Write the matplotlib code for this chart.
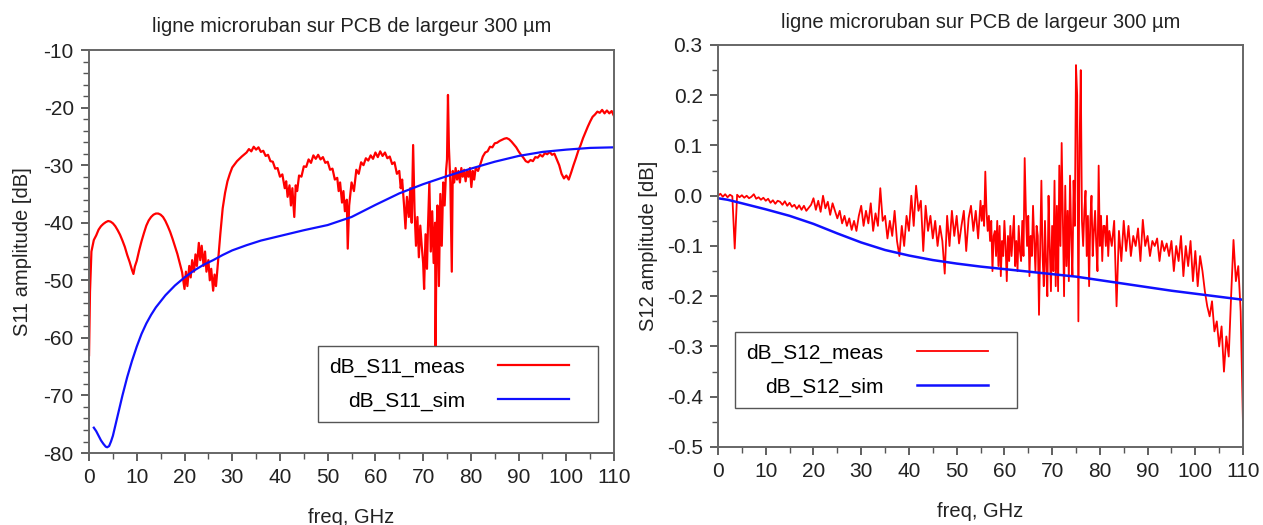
import numpy as np
import matplotlib
matplotlib.use("Agg")
import matplotlib.pyplot as plt
from matplotlib.ticker import MultipleLocator, FormatStrFormatter

plt.rcParams["font.family"] = ["Liberation Sans", "DejaVu Sans"]
plt.rcParams["axes.unicode_minus"] = False

TITLE = "ligne microruban sur PCB de largeur 300 µm"

# S11 mesure (GHz, dB)
s11_meas_f = [
    0, 0.2, 0.5, 1, 1.5, 2, 2.5, 3, 3.5, 4,
    4.5, 5, 5.5, 6, 6.5, 7, 7.5, 8, 8.5, 9,
    9.3, 9.6, 10, 10.5, 11, 11.5, 12, 12.5, 13, 13.5,
    14, 14.5, 15, 15.5, 16, 16.5, 17, 17.5, 18, 18.5,
    19, 19.5, 20, 20.3, 20.6, 21, 21.3, 21.6, 22, 22.3,
    22.6, 23, 23.3, 23.6, 24, 24.3, 24.6, 25, 25.3, 25.6,
    26, 26.3, 26.6, 27, 27.5, 28, 28.5, 29, 29.5, 30,
    31, 32, 33, 33.5, 34, 34.5, 35, 35.5, 36, 36.5,
    37, 37.5, 38, 38.5, 39, 39.5, 40, 40.5, 41, 41.3,
    41.6, 42, 42.3, 42.6, 43, 43.3, 43.6, 44, 44.5, 45,
    45.5, 46, 46.5, 47, 47.5, 48, 48.5, 49, 49.5, 50,
    50.5, 51, 51.5, 52, 52.3, 52.6, 53, 53.3, 53.6, 54,
    54.2, 54.5, 55, 55.5, 56, 56.5, 57, 57.5, 58, 58.5,
    59, 59.5, 60, 60.5, 61, 61.5, 62, 62.5, 63, 63.5,
    64, 64.5, 65, 65.3, 65.6, 66, 66.3, 66.6, 67, 67.3,
    67.6, 67.9, 68.2, 68.5, 68.8, 69.1, 69.4, 69.7, 70, 70.2,
    70.5, 70.8, 71, 71.3, 71.6, 71.9, 72.2, 72.5, 72.6, 72.8,
    73, 73.3, 73.6, 73.9, 74.2, 74.5, 74.8, 75, 75.2, 75.4,
    75.7, 76, 76.2, 76.5, 76.8, 77.1, 77.4, 77.7, 78, 78.3,
    78.6, 78.9, 79.2, 79.5, 79.8, 80.1, 80.4, 80.7, 81, 81.5,
    82, 82.5, 83, 83.5, 84, 84.5, 85, 85.5, 86, 86.5,
    87, 87.5, 88, 88.5, 89, 89.5, 90, 90.5, 91, 91.5,
    92, 92.5, 93, 93.5, 94, 94.5, 95, 95.5, 96, 96.5,
    97, 97.5, 98, 98.5, 99, 99.5, 100, 100.5, 101, 101.5,
    102, 102.5, 103, 103.5, 104, 104.5, 105, 105.5, 106, 106.5,
    107, 107.5, 108, 108.5, 109, 109.5, 110,
]
s11_meas_db = [
    -63, -52, -45, -43, -42.2, -41.2, -40.6, -40.2, -39.9, -39.7,
    -39.8, -40.1, -40.6, -41.3, -42.1, -43.1, -44.2, -45.6, -46.8, -48.2,
    -48.9, -47.6, -46.6, -44.8, -43.2, -41.8, -40.5, -39.6, -39, -38.6,
    -38.4, -38.4, -38.6, -39, -39.7, -40.6, -41.6, -42.8, -44.1, -45.4,
    -47, -48.6, -51.5, -48.5, -51, -47.5, -49.5, -46.5, -48.5, -45.5,
    -47.5, -43.5, -46.5, -44, -47.5, -45, -48.5, -46.5, -50, -48,
    -51.8, -49, -51, -47, -42, -37.5, -34.8, -32.8, -31.5, -30.4,
    -29.3, -28.5, -27.8, -27.2, -27.6, -26.8, -27.3, -26.9, -27.7, -27.5,
    -28.4, -28.2, -29.3, -29.4, -30.6, -30.5, -32, -31.6, -34, -32.8,
    -35.5, -33.5, -37, -34, -39, -33.5, -34.5, -31.8, -32, -30.2,
    -30.3, -29, -29.6, -28.3, -28.9, -28.2, -29, -28.6, -29.6, -29.4,
    -30.8, -30.6, -32.5, -32.2, -34.5, -33, -36.5, -34.5, -38, -36,
    -44.5, -37, -33, -34.5, -30.8, -31.5, -29.5, -30, -28.8, -29.2,
    -28.3, -28.9, -27.8, -28.6, -27.6, -28.4, -27.8, -28.8, -28.5, -29.8,
    -29.5, -31.5, -31, -34, -32.5, -37, -41, -35.5, -39, -34,
    -40, -26.5, -38, -44, -39, -46, -40.5, -44, -47, -51.5,
    -42, -48, -41, -33, -45, -38, -47, -40, -63, -42,
    -37, -51, -35, -44, -33, -37, -31, -29, -17.8, -27,
    -33, -48.5, -31, -33, -30.5, -32.5, -31, -33, -30.5, -32,
    -30.8, -32.8, -31, -32, -30.5, -33.8, -31, -32.5, -30.5, -31,
    -29.8, -28.5, -27.8, -27.6, -26.8, -26.9, -26.2, -26.1, -25.8, -25.6,
    -25.4, -25.3, -25.5, -25.9, -26.4, -26.9, -27.6, -28.2, -28.7, -29.3,
    -29.5, -29.1, -29.3, -28.6, -28.7, -28.2, -28.5, -27.9, -28.1, -27.7,
    -28.2, -28, -29, -30, -31.5, -32.3, -31.8, -32.5, -31.3, -30,
    -28.8, -27.5, -26.5, -25.3, -24.3, -23.3, -22.4, -21.6, -21.2, -20.7,
    -20.9, -20.4, -21, -20.5, -21, -20.6, -21.5,
]

# S11 simulation
s11_sim_f = [1, 1.5, 2, 2.5, 3, 3.5, 3.8, 4.2, 4.6, 5, 6, 7, 8, 9, 10,
             11, 12, 13, 14, 16, 18, 20, 22, 24, 26, 28, 30, 33, 36, 40, 45,
             50, 55, 60, 65, 70, 75, 80, 85, 90, 95, 100, 105, 110]
s11_sim_db = [-75.6, -76.2, -77, -77.8, -78.4, -78.9, -79, -78.8, -78, -77,
              -73.5, -70, -66.8, -64, -61.5, -59.3, -57.5, -56, -54.7,
              -52.6, -50.9, -49.5, -48.3, -47.3, -46.5, -45.6, -44.8, -43.9,
              -43.1, -42.3, -41.3, -40.4, -39, -36.9, -34.9, -33.3, -31.9,
              -30.6, -29.4, -28.4, -27.7, -27.3, -27.0, -26.9]

# S12 mesure (GHz, dB)
s12_meas_f = [
    0, 0.5, 1, 1.5, 2, 2.5, 3, 3.5, 4, 4.5,
    5, 5.5, 6, 6.5, 7, 7.5, 8, 8.5, 9, 9.5,
    10, 10.5, 11, 11.5, 12, 12.5, 13, 13.5, 14, 14.5,
    15, 15.5, 16, 16.5, 17, 17.5, 18, 18.5, 19, 19.5,
    20, 20.5, 21, 21.5, 22, 22.5, 23, 23.5, 24, 24.5,
    25, 25.5, 26, 26.5, 27, 27.5, 28, 28.5, 29, 29.5,
    30, 30.5, 31, 31.5, 32, 32.5, 33, 33.5, 34, 34.5,
    35, 35.5, 36, 36.5, 37, 37.5, 38, 38.5, 39, 39.5,
    40, 40.5, 41, 41.5, 42, 42.5, 43, 43.5, 44, 44.5,
    45, 45.5, 46, 46.5, 47, 47.5, 48, 48.5, 49, 49.5,
    50, 50.5, 51, 51.5, 52, 52.5, 53, 53.5, 54, 54.5,
    55, 55.25, 55.5, 55.75, 56, 56.25, 56.5, 56.75,
    57, 57.25, 57.5, 57.75, 58, 58.25, 58.5, 58.75,
    59, 59.25, 59.5, 59.75, 60, 60.25, 60.5, 60.75,
    61, 61.25, 61.5, 61.75, 62, 62.25, 62.5, 62.75,
    63, 63.25, 63.5, 63.75, 64, 64.25, 64.5, 64.75,
    65, 65.25, 65.5, 65.75, 66, 66.25, 66.5, 66.75,
    67, 67.25, 67.5, 67.75, 68, 68.25, 68.5, 68.75,
    69, 69.25, 69.5, 69.75, 70, 70.25, 70.5, 70.75,
    71, 71.25, 71.5, 71.75, 72, 72.25, 72.5, 72.75,
    73, 73.25, 73.5, 73.75, 74, 74.25, 74.5, 74.75,
    75, 75.25, 75.5, 75.75, 76, 76.25, 76.5, 76.75,
    77, 77.25, 77.5, 77.75, 78, 78.25, 78.5, 78.75,
    79, 79.25, 79.5, 79.75, 80, 80.25, 80.5, 80.75,
    81, 81.25, 81.5, 81.75,
    82, 82.5, 83, 83.5, 84, 84.5,
    85, 85.5, 86, 86.5, 87, 87.5, 88, 88.5, 89, 89.5,
    90, 90.5, 91, 91.5, 92, 92.5, 93, 93.5, 94, 94.5,
    95, 95.5, 96, 96.5, 97, 97.5, 98, 98.5, 99, 99.5,
    100, 100.5, 101, 101.5, 102, 102.5, 103, 103.5, 104, 104.5,
    105, 105.5, 106, 106.5, 107, 107.5, 108, 108.5, 109, 109.5,
    110,
]
s12_meas_db = [
    0.0, 0.004, -0.002, 0.003, -0.003, 0.002, -0.001, -0.105, 0.002, -0.003,
    0.001, -0.004, 0.0, -0.005, -0.002, 0.003, -0.006, -0.003, -0.008, -0.004,
    -0.01, -0.006, -0.014, -0.009, -0.016, -0.01, -0.012, -0.018, -0.011, -0.02,
    -0.014, -0.022, -0.018, -0.026, -0.019, -0.028, -0.02, -0.03, -0.024, -0.018,
    -0.005, -0.028, -0.01, -0.032, 0.0, -0.025, -0.012, -0.038, -0.015, -0.03,
    -0.045, -0.03, -0.055, -0.04, -0.06, -0.045, -0.068, -0.05, -0.07, -0.04,
    -0.02, -0.06, -0.03, -0.055, -0.015, -0.07, -0.035, -0.06, 0.015, -0.05,
    -0.04, -0.085, -0.05, -0.08, -0.03, -0.09, -0.12, -0.06, -0.1, -0.04,
    -0.07, 0.0, -0.06, 0.02, -0.03, -0.01, -0.11, -0.02, -0.07, -0.04,
    -0.085, -0.05, -0.1, -0.06, -0.09, -0.155, -0.04, -0.1, -0.03, -0.08,
    -0.04, -0.095, -0.06, -0.03, -0.11, -0.045, -0.02, -0.07, -0.03, -0.085,
    -0.01, -0.05, -0.02, -0.06, 0.048, -0.03, -0.07, -0.04,
    -0.09, -0.05, -0.15, -0.08, -0.07, -0.12, -0.05, -0.14,
    -0.06, -0.16, -0.09, -0.12, -0.05, -0.1, -0.17, -0.08,
    -0.13, -0.06, -0.12, -0.08, -0.04, -0.14, -0.09, -0.15,
    -0.06, -0.11, -0.13, -0.05, -0.12, 0.075, -0.03, -0.1,
    -0.04, -0.16, -0.08, -0.12, -0.02, -0.09, -0.15, -0.06,
    -0.08, -0.237, -0.1, 0.03, -0.12, -0.18, -0.05, -0.14,
    -0.2, 0.0, -0.1, -0.19, -0.06, -0.15, 0.03, -0.18,
    -0.02, -0.19, 0.06, -0.1, 0.105, -0.05, -0.2, 0.02,
    -0.14, -0.03, -0.17, 0.04, -0.08, -0.16, 0.03, -0.06,
    0.26, 0.2, -0.25, 0.1, 0.25, -0.05, -0.1, -0.03,
    0.01, -0.12, -0.04, -0.18, -0.05, 0.0, -0.12, -0.07,
    -0.03, -0.1, -0.15, 0.06, -0.1, -0.04, -0.13, -0.06,
    -0.06, -0.1, -0.04, -0.12,
    -0.07, -0.1, -0.05, -0.22, -0.07, -0.13,
    -0.05, -0.11, -0.06, -0.12, -0.08, -0.1, -0.065, -0.13, -0.048, -0.1,
    -0.08, -0.12, -0.09, -0.1, -0.085, -0.13, -0.09, -0.11, -0.095, -0.12,
    -0.09, -0.15, -0.1, -0.13, -0.08, -0.16, -0.1, -0.14, -0.09, -0.17,
    -0.11, -0.18, -0.12, -0.15, -0.19, -0.22, -0.24, -0.21, -0.27, -0.25,
    -0.3, -0.26, -0.35, -0.28, -0.32, -0.2, -0.088, -0.17, -0.14, -0.23,
    -0.46,
]

# S12 simulation
s12_sim_f = [0, 2, 5, 10, 15, 20, 25, 30, 35, 40, 45, 50, 55, 60, 65, 70,
             75, 80, 85, 90, 95, 100, 105, 110]
s12_sim_db = [-0.005, -0.008, -0.015, -0.027, -0.040, -0.056, -0.075, -0.093,
              -0.108, -0.119, -0.128, -0.135, -0.141, -0.146, -0.151, -0.156,
              -0.161, -0.168, -0.175, -0.182, -0.189, -0.195, -0.201, -0.207]

RED = "#ff0000"
BLUE = "#1010ff"
SPINE = "#666666"
FS = 14.5


def style_axes(ax):
    for s in ax.spines.values():
        s.set_color(SPINE)
        s.set_linewidth(1.4)
    ax.tick_params(which="major", direction="out", length=6, width=1.2,
                   color="#444444", labelsize=15, labelcolor="#222222", pad=5)
    ax.tick_params(which="minor", direction="out", length=4, width=1.0,
                   color="#555555")
    ax.xaxis.set_major_locator(MultipleLocator(10))
    ax.xaxis.set_minor_locator(MultipleLocator(5))
    ax.set_xlim(0, 110)
    ax.set_xlabel("freq, GHz", fontsize=FS, color="#222222", labelpad=15)


fig = plt.figure(figsize=(12.63, 5.25), dpi=100)

ax1 = fig.add_axes([0.0705, 0.1371, 0.4157, 0.7676])
ax1.plot(s11_meas_f, s11_meas_db, color=RED, lw=1.6, label="dB_S11_meas")
ax1.plot(s11_sim_f, s11_sim_db, color=BLUE, lw=1.6, label="dB_S11_sim")
ax1.set_ylim(-80, -10)
ax1.yaxis.set_major_locator(MultipleLocator(10))
ax1.yaxis.set_minor_locator(MultipleLocator(2))
style_axes(ax1)
ax1.set_ylabel("S11 amplitude [dB]", fontsize=FS, color="#222222", labelpad=8)
ax1.set_title(TITLE, fontsize=FS, color="#222222", pad=13)
ax1.legend(loc="lower left", bbox_to_anchor=(0.436, 0.077, 0.533, 0.2),
           mode="expand", borderaxespad=0, markerfirst=False,
           handlelength=3.4, handletextpad=1.6, borderpad=0.55,
           labelspacing=0.7, fontsize=15, fancybox=False,
           edgecolor="#555555", framealpha=1)

ax2 = fig.add_axes([0.5685, 0.1486, 0.4157, 0.7657])
ax2.plot(s12_meas_f, s12_meas_db, color=RED, lw=1.3, label="dB_S12_meas")
ax2.plot(s12_sim_f, s12_sim_db, color=BLUE, lw=1.8, label="dB_S12_sim")
ax2.set_ylim(-0.5, 0.3)
ax2.yaxis.set_major_locator(MultipleLocator(0.1))
ax2.yaxis.set_minor_locator(MultipleLocator(0.05))
ax2.yaxis.set_major_formatter(FormatStrFormatter("%.1f"))
style_axes(ax2)
ax2.set_ylabel("S12 amplitude [dB]", fontsize=FS, color="#222222", labelpad=6)
ax2.set_title(TITLE, fontsize=FS, color="#222222", pad=12)
ax2.legend(loc="lower left", bbox_to_anchor=(0.032, 0.097, 0.537, 0.2),
           mode="expand", borderaxespad=0, markerfirst=False,
           handlelength=3.4, handletextpad=1.6, borderpad=0.55,
           labelspacing=0.7, fontsize=15, fancybox=False,
           edgecolor="#555555", framealpha=1)

fig.savefig("out.png", dpi=100)
